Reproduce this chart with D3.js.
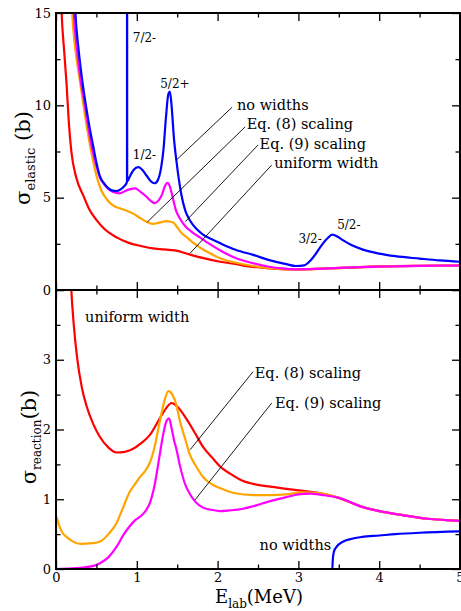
<!DOCTYPE html>
<html>
<head>
<meta charset="utf-8">
<script src="https://cdn.jsdelivr.net/npm/d3@7"></script>
<style>
  body { margin: 0; background: #fff; }
</style>
</head>
<body>
<div id="chart"></div>
<script>
// ---- data: [E_lab (MeV), sigma (b)] ----
var elasticNoWidths = [[0.22,17],[0.24,15],[0.28,13],[0.32,11.5],[0.37,10.0],[0.42,8.7],[0.46,7.8],[0.5,6.9],[0.54,6.2],[0.6,5.75],[0.65,5.5],[0.7,5.38],[0.75,5.36],[0.8,5.45],[0.84,5.6],[0.879,5.86],[0.8795,17],[0.8805,17],[0.881,5.9],[0.92,6.2],[0.96,6.5],[1.02,6.65],[1.07,6.5],[1.12,6.2],[1.17,5.9],[1.22,5.78],[1.26,5.95],[1.3,6.6],[1.33,7.6],[1.36,9.3],[1.39,10.6],[1.41,10.75],[1.43,10.0],[1.46,8.2],[1.49,7.0],[1.52,6.0],[1.55,5.2],[1.6,4.3],[1.66,3.75],[1.74,3.3],[1.82,3.0],[1.9,2.8],[2.0,2.6],[2.15,2.3],[2.23,2.17],[2.44,1.9],[2.64,1.62],[2.85,1.4],[2.97,1.3],[3.07,1.33],[3.15,1.6],[3.22,1.99],[3.3,2.5],[3.36,2.8],[3.42,3.0],[3.48,2.9],[3.55,2.7],[3.65,2.45],[3.79,2.2],[4.0,1.97],[4.2,1.83],[4.5,1.7],[4.75,1.6],[5,1.53]];
var elasticEq8 = [[0.18,17],[0.2,15],[0.24,13],[0.29,11.5],[0.34,10.0],[0.39,8.6],[0.44,7.4],[0.5,6.2],[0.56,5.4],[0.63,4.9],[0.7,4.6],[0.79,4.42],[0.87,4.3],[0.95,4.15],[1.04,3.9],[1.12,3.7],[1.2,3.58],[1.28,3.65],[1.37,3.73],[1.45,3.65],[1.5,3.4],[1.55,3.1],[1.62,2.85],[1.7,2.55],[1.8,2.25],[1.9,2.0],[2.03,1.72],[2.2,1.5],[2.44,1.3],[2.65,1.18],[2.85,1.12],[3.0,1.11],[3.3,1.15],[3.6,1.2],[4.0,1.27],[4.5,1.31],[5,1.32]];
var elasticEq9 = [[0.2,17],[0.22,15],[0.26,13],[0.3,11.5],[0.35,10.2],[0.4,8.8],[0.45,7.6],[0.5,6.7],[0.54,6.13],[0.6,5.7],[0.67,5.4],[0.75,5.25],[0.79,5.23],[0.85,5.35],[0.91,5.45],[0.98,5.5],[1.05,5.3],[1.12,5.05],[1.18,4.8],[1.22,4.7],[1.27,4.85],[1.31,5.15],[1.35,5.65],[1.38,5.8],[1.41,5.6],[1.45,4.9],[1.49,4.24],[1.53,3.9],[1.6,3.45],[1.68,3.15],[1.78,2.85],[1.9,2.5],[2.05,2.1],[2.23,1.72],[2.44,1.45],[2.64,1.26],[2.8,1.17],[2.97,1.12],[3.2,1.14],[3.5,1.2],[4.0,1.27],[4.5,1.31],[5,1.32]];
var elasticUniform = [[0.05,18],[0.07,15],[0.1,13],[0.13,11.2],[0.16,9.0],[0.19,7.5],[0.25,6.1],[0.34,5.1],[0.42,4.3],[0.5,3.8],[0.6,3.3],[0.75,2.85],[0.9,2.55],[1.05,2.38],[1.2,2.25],[1.4,2.17],[1.5,2.12],[1.61,1.98],[1.8,1.75],[2.03,1.53],[2.2,1.42],[2.44,1.25],[2.65,1.17],[2.85,1.12],[3.0,1.12],[3.3,1.16],[3.6,1.21],[4.0,1.28],[4.5,1.31],[5,1.32]];

var reactionNoWidths = [[0,0],[3.42,0],[3.425,0.12],[3.44,0.25],[3.48,0.33],[3.55,0.39],[3.65,0.43],[3.79,0.46],[4.0,0.48],[4.2,0.5],[4.5,0.52],[5,0.54]];
var reactionEq8 = [[0,0],[0.002,0.75],[0.04,0.62],[0.08,0.52],[0.13,0.46],[0.2,0.4],[0.3,0.36],[0.45,0.37],[0.54,0.39],[0.65,0.5],[0.75,0.66],[0.83,0.88],[0.91,1.1],[0.98,1.22],[1.04,1.32],[1.1,1.4],[1.16,1.52],[1.22,1.75],[1.28,2.09],[1.34,2.4],[1.39,2.55],[1.44,2.5],[1.49,2.35],[1.53,2.14],[1.61,1.82],[1.65,1.66],[1.73,1.48],[1.82,1.32],[1.92,1.22],[2.03,1.16],[2.2,1.09],[2.44,1.06],[2.65,1.06],[2.85,1.07],[3.05,1.1],[3.26,1.09],[3.5,1.02],[3.79,0.89],[4.0,0.83],[4.3,0.77],[4.6,0.72],[5,0.69]];
var reactionEq9 = [[0,0],[0.2,0.01],[0.4,0.03],[0.54,0.08],[0.65,0.17],[0.75,0.32],[0.84,0.5],[0.91,0.61],[0.98,0.7],[1.04,0.75],[1.1,0.82],[1.16,0.94],[1.22,1.2],[1.28,1.61],[1.33,1.95],[1.37,2.13],[1.4,2.16],[1.43,2.02],[1.46,1.85],[1.49,1.72],[1.53,1.5],[1.61,1.18],[1.65,1.09],[1.72,0.97],[1.82,0.88],[1.92,0.85],[2.03,0.83],[2.15,0.84],[2.3,0.86],[2.44,0.9],[2.64,0.97],[2.85,1.03],[3.0,1.07],[3.14,1.08],[3.3,1.06],[3.5,1.02],[3.79,0.89],[4.0,0.83],[4.3,0.77],[4.6,0.72],[5,0.69]];
var reactionUniform = [[0.17,4.6],[0.19,4.0],[0.22,3.5],[0.26,3.04],[0.32,2.6],[0.38,2.33],[0.46,2.08],[0.54,1.9],[0.65,1.74],[0.75,1.67],[0.85,1.68],[0.95,1.72],[1.05,1.8],[1.16,1.92],[1.28,2.15],[1.36,2.3],[1.43,2.38],[1.5,2.33],[1.61,2.16],[1.72,1.95],[1.82,1.75],[1.93,1.6],[2.03,1.47],[2.15,1.37],[2.3,1.27],[2.44,1.22],[2.65,1.18],[2.85,1.15],[3.05,1.12],[3.26,1.09],[3.5,1.02],[3.79,0.89],[4.0,0.83],[4.3,0.77],[4.6,0.72],[5,0.69]];

var seriesColors = ["#ff0000", "#ffa500", "#ff00ff", "#0000ff"];

// tick values
var xMajor = [0,1,2,3,4,5];
var xMinor = [0.5,1.5,2.5,3.5,4.5];
var topMajor = [0,5,10,15];
var topMinor = [2.5,7.5,12.5];
var botMajor = [0,1,2,3,4];
var botMinor = [0.5,1.5,2.5,3.5];

// labels: [text, E, sigma]
var topLabels = [["no widths",2.24,9.75],["Eq. (8) scaling",2.36,8.72],["Eq. (9) scaling",2.52,7.63],["uniform width",2.70,6.6]];
var topLeaders = [[[2.18,9.9],[1.49,7.04]],[[2.34,8.83],[1.13,3.68]],[[2.50,7.85],[1.60,3.70]],[[2.67,6.77],[1.66,1.99]]];
var stateLabels = [["7/2-",0.95,13.45],["5/2+",1.29,10.94],["1/2-",0.95,7.1],["3/2-",3.0,2.55],["5/2-",3.48,3.3]];
var botLabels = [["uniform width",0.36,3.54],["Eq. (8) scaling",2.46,2.74],["Eq. (9) scaling",2.71,2.31],["no widths",2.52,0.27]];
var botLeaders = [[[2.44,2.83],[1.66,1.71]],[[2.67,2.38],[1.72,0.99]]];

var FONT = "DejaVu Serif";

var W = 461, H = 611;
var svg = d3.select("#chart").append("svg")
    .attr("width", W)
    .attr("height", H)
    .attr("font-family", FONT);

var x = d3.scaleLinear().domain([0,5]).range([56,460]);
var yTop = d3.scaleLinear().domain([0,15]).range([290,13]);
var yBot = d3.scaleLinear().domain([0,4]).range([569,290]);

// clip paths for each panel
var defs = svg.append("defs");
defs.append("clipPath").attr("id","clipTop").append("rect")
    .attr("x",56).attr("y",13).attr("width",404).attr("height",277);
defs.append("clipPath").attr("id","clipBot").append("rect")
    .attr("x",56).attr("y",290).attr("width",404).attr("height",279);

function drawCurves(list, y, clip) {
  var line = d3.line()
      .x(function(d){ return x(d[0]); })
      .y(function(d){ return y(d[1]); })
      .curve(d3.curveMonotoneX);
  var g = svg.append("g").attr("clip-path","url(#" + clip + ")");
  list.forEach(function(s, i){
    g.append("path")
      .datum(s)
      .attr("d", line)
      .attr("fill","none")
      .attr("stroke", seriesColors[i])
      .attr("stroke-width", 2.2);
  });
}

drawCurves([elasticUniform, elasticEq8, elasticEq9, elasticNoWidths], yTop, "clipTop");
drawCurves([reactionUniform, reactionEq8, reactionEq9, reactionNoWidths], yBot, "clipBot");

// axes (ticks inward)
function addAxis(gen, tx, ty) {
  var g = svg.append("g")
    .attr("transform","translate(" + tx + "," + ty + ")")
    .call(gen);
  g.select(".domain").remove();
  g.attr("font-family", FONT).attr("font-size", 13);
  g.selectAll("line").attr("stroke-width",1.3);
  g.selectAll("text").attr("fill","#000");
  return g;
}
var none = function(){ return ""; };
var MAJ = 8, MIN = 4.5;

// bottom of bottom panel (with labels)
addAxis(d3.axisBottom(x).tickValues(xMajor).tickSizeInner(-MAJ).tickSizeOuter(0).tickPadding(4).tickFormat(d3.format("d")), 0, 569);
addAxis(d3.axisBottom(x).tickValues(xMinor).tickSizeInner(-MIN).tickSizeOuter(0).tickFormat(none), 0, 569);
// top of bottom panel
addAxis(d3.axisTop(x).tickValues(xMajor).tickSizeInner(-MAJ).tickSizeOuter(0).tickFormat(none), 0, 290);
addAxis(d3.axisTop(x).tickValues(xMinor).tickSizeInner(-MIN).tickSizeOuter(0).tickFormat(none), 0, 290);
// bottom of top panel
addAxis(d3.axisBottom(x).tickValues(xMajor).tickSizeInner(-MAJ).tickSizeOuter(0).tickFormat(none), 0, 290);
addAxis(d3.axisBottom(x).tickValues(xMinor).tickSizeInner(-MIN).tickSizeOuter(0).tickFormat(none), 0, 290);
// top of top panel
addAxis(d3.axisTop(x).tickValues(xMajor).tickSizeInner(-MAJ).tickSizeOuter(0).tickFormat(none), 0, 13);
addAxis(d3.axisTop(x).tickValues(xMinor).tickSizeInner(-MIN).tickSizeOuter(0).tickFormat(none), 0, 13);

// y axes top panel
addAxis(d3.axisLeft(yTop).tickValues(topMajor).tickSizeInner(-MAJ).tickSizeOuter(0).tickPadding(5).tickFormat(d3.format("d")), 56, 0);
addAxis(d3.axisLeft(yTop).tickValues(topMinor).tickSizeInner(-MIN).tickSizeOuter(0).tickFormat(none), 56, 0);
addAxis(d3.axisRight(yTop).tickValues(topMajor).tickSizeInner(-MAJ).tickSizeOuter(0).tickFormat(none), 460, 0);
addAxis(d3.axisRight(yTop).tickValues(topMinor).tickSizeInner(-MIN).tickSizeOuter(0).tickFormat(none), 460, 0);
// y axes bottom panel
addAxis(d3.axisLeft(yBot).tickValues(botMajor).tickSizeInner(-MAJ).tickSizeOuter(0).tickPadding(5)
  .tickFormat(function(d){ return d === 4 ? "" : d; }), 56, 0);
addAxis(d3.axisLeft(yBot).tickValues(botMinor).tickSizeInner(-MIN).tickSizeOuter(0).tickFormat(none), 56, 0);
addAxis(d3.axisRight(yBot).tickValues(botMajor).tickSizeInner(-MAJ).tickSizeOuter(0).tickFormat(none), 460, 0);
addAxis(d3.axisRight(yBot).tickValues(botMinor).tickSizeInner(-MIN).tickSizeOuter(0).tickFormat(none), 460, 0);

// frames
svg.append("rect").attr("x",56).attr("y",13).attr("width",404).attr("height",277)
  .attr("fill","none").attr("stroke","#000").attr("stroke-width",2);
svg.append("rect").attr("x",56).attr("y",290).attr("width",404).attr("height",279)
  .attr("fill","none").attr("stroke","#000").attr("stroke-width",2);

// leader lines
function leaders(list, y) {
  svg.append("g").selectAll("line")
    .data(list)
    .enter()
    .append("line")
      .attr("x1", function(d){ return x(d[0][0]); })
      .attr("y1", function(d){ return y(d[0][1]); })
      .attr("x2", function(d){ return x(d[1][0]); })
      .attr("y2", function(d){ return y(d[1][1]); })
      .attr("stroke","#000")
      .attr("stroke-width",0.9);
}
leaders(topLeaders, yTop);
leaders(botLeaders, yBot);

function labels(list, y, size) {
  svg.append("g").selectAll("text")
    .data(list)
    .enter()
    .append("text")
      .attr("x", function(d){ return x(d[1]); })
      .attr("y", function(d){ return y(d[2]); })
      .attr("font-family", FONT)
      .attr("font-size", size)
      .text(function(d){ return d[0]; });
}
labels(topLabels, yTop, 14.5);
labels(stateLabels, yTop, 12);
labels(botLabels, yBot, 14.5);

// axis titles
var yl1 = svg.append("text")
    .attr("transform","translate(30,158) rotate(-90)")
    .attr("text-anchor","middle")
    .attr("font-family", FONT)
    .attr("font-size", 21);
yl1.append("tspan").text("σ");
yl1.append("tspan").attr("font-size", 13).attr("dy",5).text("elastic");
yl1.append("tspan").attr("dy",-5).text(" (b)");

var yl2 = svg.append("text")
    .attr("transform","translate(36,437) rotate(-90)")
    .attr("text-anchor","middle")
    .attr("font-family", FONT)
    .attr("font-size", 21);
yl2.append("tspan").text("σ");
yl2.append("tspan").attr("font-size", 12).attr("dy",5).text("reaction");
yl2.append("tspan").attr("dy",-5).text("(b)");

var xl = svg.append("text")
    .attr("x",259)
    .attr("y",603)
    .attr("text-anchor","middle")
    .attr("font-family", FONT)
    .attr("font-size", 18);
xl.append("tspan").text("E");
xl.append("tspan").attr("font-size", 12).attr("dy",5).text("lab");
xl.append("tspan").attr("dy",-5).text("(MeV)");
</script>
</body>
</html>
